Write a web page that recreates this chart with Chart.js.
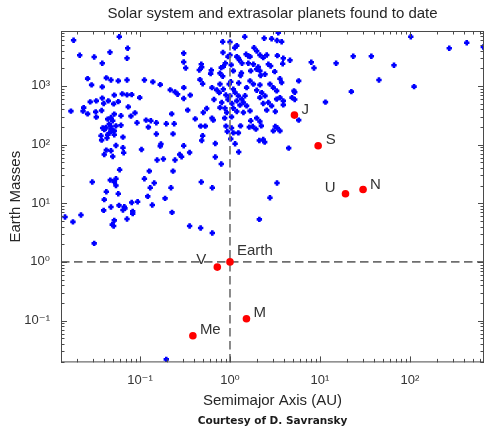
<!DOCTYPE html>
<html><head><meta charset="utf-8">
<script src="https://cdn.jsdelivr.net/npm/chart.js@4/dist/chart.umd.min.js"></script>
<style>html,body{margin:0;padding:0;background:#fff}#wrap{width:485px;height:429px}</style>
</head><body><div id="wrap"><canvas id="c" width="485" height="429"></canvas></div>
<script>
// Extrasolar planets: semimajor axis (AU) and mass (Earth masses)
const exoA = [
0.0183,0.0589,0.073,0.0214,0.031,0.0464,0.0381,0.0718,0.306,0.306,0.322,0.0262,0.029,0.0423,0.0476,0.0574,0.0718,0.0381,0.112,0.139,
0.168,0.217,0.245,0.262,0.362,0.306,0.339,0.0171,0.0237,0.0233,0.0262,0.028,0.0327,0.0322,0.0327,0.0375,0.0381,0.0395,0.0445,0.0518,
0.051,0.0574,0.0636,0.0718,0.0809,0.0993,0.0741,0.088,0.0615,0.0794,0.0927,0.117,0.132,0.152,0.124,0.196,0.24,0.225,0.0408,0.0438,
0.0476,0.0456,0.0518,0.0498,0.0541,0.0476,0.0518,0.0385,0.0419,0.0476,0.0498,0.0456,0.0518,0.0438,0.0401,0.0369,0.0375,0.043,0.0647,0.0615,
0.152,0.233,0.0423,0.0476,0.0498,0.0401,0.0541,0.0647,0.0659,0.104,0.171,0.168,0.306,0.356,0.276,0.29,0.245,0.155,0.182,0.0594,
0.127,0.233,0.0295,0.0468,0.0518,0.0541,0.0541,0.112,0.144,0.13,0.221,0.0423,0.0401,0.0574,0.122,0.19,0.0476,0.0585,0.067,0.0647,
0.0681,0.0809,0.0942,0.0395,0.083,0.083,0.137,0.227,0.0147,0.018,0.0221,0.0518,0.0718,0.0492,0.051,0.356,0.031,0.472,0.636,3.44,
1.46,2.4,2.9,0.83,1.19,1.13,1.85,1.98,0.95,1.67,1.6,2.15,2.56,2.34,3.36,1.27,1.36,0.48,0.887,0.843,
1.6,1.82,2.06,1.98,2.15,2.67,2.83,3.85,0.456,0.62,0.61,0.8,0.774,1.03,1.09,1.34,1.31,1.7,2.19,2.45,
3.14,3.59,3.75,0.464,0.497,0.83,1.02,0.98,1.25,1.67,1.82,1.53,2.15,2.78,3.03,0.307,0.631,0.711,0.774,0.843,
0.76,1.09,1.14,1.0,1.24,1.35,1.19,1.41,1.98,2.25,2.15,2.45,3.3,3.59,3.91,3.3,0.664,0.505,0.551,0.809,
0.774,0.88,0.92,1.09,1.19,1.04,1.53,1.67,1.41,2.34,2.67,2.9,2.56,3.19,3.91,0.411,0.631,0.652,0.873,1.7,
1.98,2.15,0.472,0.532,0.903,1.04,0.933,1.09,1.24,1.31,1.64,1.79,1.94,2.23,3.19,3.36,3.03,3.59,0.497,0.485,
1.02,0.687,1.14,2.12,2.34,2.43,0.687,1.25,0.8,4.49,0.48,0.636,3.33,2.78,2.12,102,273,427,652,4.64,
8.0,8.58,15.1,23.4,37.2,66.4,5.8,45.2,5.14,5.24,22.3,111,4.89,5.24,11.5,5.8,1.0,0.836,1.0,3.33,
3.75,1.51,3.91,1.19,1.24,0.485,0.196,0.95,1.29,1.05,0.9,1.47
];
const exoM = [
5990,6900,4380,3330,3110,3740,2430,2960,3600,2560,2020,1330,1040,1370,1260,1220,1260,961,1260,1170,
1050,855,790,722,695,608,386,371,427,371,334,534,555,361,293,380,618,500,555,695,
494,540,731,703,711,632,439,347,309,305,235,261,254,235,198,226,226,334,188,271,
289,223,330,254,208,183,171,191,195,203,171,157,147,147,180,141,119,129,134,214,
151,152,80.5,78.3,62.7,67.8,96.4,88.1,72.4,82.4,102,94.2,95.3,73.3,67.8,61.9,54.4,54.4,56.6,37.2,
35.3,35.3,23.0,24.8,23.0,26.1,20.1,26.1,22.1,18.4,18.4,15.7,11.5,14.5,13.1,12.1,8.63,9.18,8.73,7.67,
8.17,10.3,10.6,7.55,7.26,6.64,9.33,6.98,5.83,4.8,6.31,5.1,5.39,4.31,4.1,4.1,2.07,3.79,3.11,8070,
6900,6480,6380,5670,4850,4480,4480,3940,3150,3150,3240,3370,3370,3030,3280,2770,2430,2340,2430,2130,
2430,2340,2100,1920,1800,2340,2190,2390,1870,1850,1620,2050,1640,2280,1800,1660,1500,1800,1500,1580,
1750,1320,1140,1280,1090,1460,1180,1070,1120,1220,1070,935,1040,1070,935,935,935,855,1070,879,
769,879,769,676,676,594,555,520,845,769,632,676,822,632,555,594,585,351,411,520,
427,417,351,417,365,297,457,375,351,500,520,457,386,365,475,274,282,261,282,254,
282,247,206,206,206,191,167,158,158,208,198,203,183,208,203,191,171,171,141,117,
125,104,103,117,122,110,61.2,74.5,46.5,87.1,23.0,18.4,22.1,12.4,5.31,6900,4380,5450,4610,2740,
2530,2020,2430,3200,3200,2250,1220,1260,822,781,800,973,632,585,528,261,5610,3710,3370,5940,
5670,3460,2960,3150,2970,2080,0.0218,585,470,500,700,680
];
// Solar system planets
const planetNames = ['Me','V','Earth','M','J','S','U','N'];
const planetA = [0.387,0.723,1.0,1.524,5.2,9.54,19.2,30.1];
const planetM = [0.055,0.815,1.0,0.107,318,95.2,14.5,17.1];
// Axis ranges and tick labels
const xRange = [0.01326, 664];
const yRange = [0.01934, 8626];
const xTicks = [0.1, 1, 10, 100];
const xTickLabels = ['10\u207B\u00B9','10\u2070','10\u00B9','10\u00B2'];
const yTicks = [0.1, 1, 10, 100, 1000];
const yTickLabels = ['10\u207B\u00B9','10\u2070','10\u00B9','10\u00B2','10\u00B3'];
const refA = 1, refM = 1;

const FONT = "'Liberation Sans', Arial, 'DejaVu Sans', sans-serif";

const framePlugin = {
  id: 'frame',
  afterDatasetsDraw(chart) {
    const {ctx, chartArea: a, scales: {x, y}} = chart;
    ctx.save();
    ctx.strokeStyle = '#4a4a4a';
    ctx.lineWidth = 1;
    ctx.beginPath();
    for (let k = -2; k <= 3; k++) {
      for (let m = 1; m <= 9; m++) {
        const v = m * Math.pow(10, k);
        const L = m === 1 ? 6 : 3.5;
        if (v >= xRange[0] && v <= xRange[1]) {
          const px = Math.round(x.getPixelForValue(v)) + 0.5;
          ctx.moveTo(px, a.bottom); ctx.lineTo(px, a.bottom - L);
          ctx.moveTo(px, a.top); ctx.lineTo(px, a.top + L);
        }
      }
    }
    for (let k = -2; k <= 3; k++) {
      for (let m = 1; m <= 9; m++) {
        const v = m * Math.pow(10, k);
        const L = m === 1 ? 6 : 3.5;
        if (v >= yRange[0] && v <= yRange[1]) {
          const py = Math.round(y.getPixelForValue(v)) + 0.5;
          ctx.moveTo(a.left, py); ctx.lineTo(a.left + L, py);
          ctx.moveTo(a.right, py); ctx.lineTo(a.right - L, py);
        }
      }
    }
    ctx.stroke();
    ctx.strokeRect(a.left + 0.5, a.top + 0.5, a.right - a.left - 1, a.bottom - a.top - 1);
    ctx.restore();
  }
};

const labelPlugin = {
  id: 'planetLabels',
  afterDatasetsDraw(chart, args, opts) {
    const {ctx} = chart;
    const meta = chart.getDatasetMeta(0);
    ctx.save();
    ctx.font = '15px ' + FONT;
    ctx.fillStyle = '#333';
    ctx.textBaseline = 'middle';
    meta.data.forEach((el, i) => {
      const o = opts.offsets[planetNames[i]];
      ctx.textAlign = o[2];
      ctx.fillText(planetNames[i], el.x + o[0], el.y + o[1]);
    });
    ctx.restore();
  }
};

new Chart(document.getElementById('c'), {
  type: 'scatter',
  data: {
    datasets: [
      {
        label: 'Solar system',
        data: planetA.map((a, i) => ({x: a, y: planetM[i]})),
        pointStyle: 'circle', pointRadius: 3.8, pointHoverRadius: 3.8,
        backgroundColor: '#ff0000', borderColor: '#ff0000', borderWidth: 0
      },
      {
        label: 'Earth mass',
        data: [{x: xRange[0], y: refM}, {x: xRange[1], y: refM}],
        showLine: true, borderColor: '#6e6e6e', borderWidth: 1.6, borderDash: [8.5, 4.5],
        pointRadius: 0, pointHoverRadius: 0
      },
      {
        label: 'Earth orbit',
        data: [{x: refA, y: yRange[0]}, {x: refA, y: yRange[1]}],
        showLine: true, borderColor: '#6e6e6e', borderWidth: 1.6, borderDash: [8.5, 4.5],
        pointRadius: 0, pointHoverRadius: 0
      },
      {
        label: 'Extrasolar planets',
        data: exoA.map((a, i) => ({x: a, y: exoM[i]})),
        pointStyle: 'cross', pointRadius: 2.7, pointHoverRadius: 2.7,
        borderColor: '#0000ff', backgroundColor: '#0000ff', borderWidth: 2.6
      }
    ]
  },
  options: {
    responsive: false,
    animation: false,
    devicePixelRatio: 1,
    events: [],
    layout: {autoPadding: false, padding: {left: 0, right: 1, top: 0, bottom: 0}},
    plugins: {
      legend: {display: false},
      tooltip: {enabled: false},
      title: {
        display: true, text: 'Solar system and extrasolar planets found to date',
        fullSize: false, color: '#262626',
        font: {family: FONT, size: 15, weight: 'normal'},
        padding: {top: 4.5, bottom: 8.5}
      },
      subtitle: {
        display: true, position: 'bottom', text: 'Courtesy of D. Savransky',
        fullSize: false, color: '#1a1a1a',
        font: {family: "'DejaVu Sans', sans-serif", size: 10.5, weight: 'bold'},
        padding: {top: 0, bottom: 1}
      },
      planetLabels: {
        offsets: {
          Me: [7, -5.5, 'left'], V: [-11, -7, 'right'], Earth: [7, -11, 'left'], M: [7, -6, 'left'],
          J: [7, -5, 'left'], S: [7.5, -6, 'left'], U: [-10, -5.5, 'right'], N: [7, -5, 'left']
        }
      }
    },
    scales: {
      x: {
        type: 'logarithmic', min: xRange[0], max: xRange[1],
        grid: {display: false, drawTicks: false, tickLength: 0}, border: {display: false},
        ticks: {
          autoSkip: false, maxRotation: 0, padding: 10, color: '#333',
          font: {family: FONT, size: 13},
          callback: (v) => { const i = xTicks.indexOf(v); return i >= 0 ? xTickLabels[i] : ''; }
        },
        title: {display: true, text: 'Semimajor Axis (AU)', color: '#262626',
          font: {family: FONT, size: 15}, padding: {top: 0, bottom: 5.5}},
        afterBuildTicks(s) { s.ticks = xTicks.map(v => ({value: v})); },
        afterFit(s) { s.height = 53; s.paddingLeft = 0; s.paddingRight = 0; }
      },
      y: {
        type: 'logarithmic', min: yRange[0], max: yRange[1],
        grid: {display: false, drawTicks: false, tickLength: 0}, border: {display: false},
        ticks: {
          autoSkip: false, padding: 11, color: '#333',
          font: {family: FONT, size: 13},
          callback: (v) => { const i = yTicks.indexOf(v); return i >= 0 ? yTickLabels[i] : ''; }
        },
        title: {display: true, text: 'Earth Masses', color: '#262626',
          font: {family: FONT, size: 15}, padding: {top: 6.5, bottom: 0}},
        afterBuildTicks(s) { s.ticks = yTicks.map(v => ({value: v})); },
        afterFit(s) { s.width = 61; s.paddingTop = 0; s.paddingBottom = 0; }
      }
    }
  },
  plugins: [framePlugin, labelPlugin]
});
</script>
</body></html>
